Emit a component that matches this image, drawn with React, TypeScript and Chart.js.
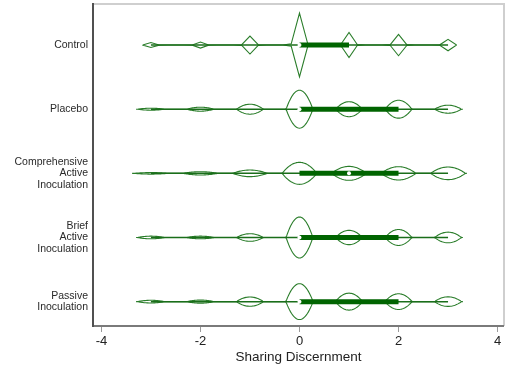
import React, { useEffect, useRef } from "react";
import { Chart, registerables } from "chart.js";

Chart.register(...registerables);

// ---- data ----
const categoryLabels: string[][] = [
  ["Control"],
  ["Placebo"],
  ["Comprehensive", "Active", "Inoculation"],
  ["Brief", "Active", "Inoculation"],
  ["Passive", "Inoculation"],
];
const scoreValues = [-3, -2, -1, 0, 1, 2, 3];
// share of respondents (%) at each discernment score
const controlShares = [3.3, 4.0, 11.9, 42.4, 16.6, 14.2, 7.6];
const placeboShares = [2.1, 4.2, 10.5, 40.0, 15.8, 18.9, 8.4];
const comprehensiveShares = [2.1, 4.5, 9.0, 30.1, 19.0, 18.1, 17.2];
const briefShares = [2.8, 2.8, 8.0, 43.2, 15.1, 16.8, 11.2];
const passiveShares = [2.9, 3.3, 9.9, 38.5, 18.2, 16.9, 10.3];
const groupShares = [controlShares, placeboShares, comprehensiveShares, briefShares, passiveShares];
// Epanechnikov kernel half-widths and evaluation grid steps of the violins
const bandwidths = [0.17, 0.27, 0.35, 0.27, 0.275];
const gridSteps = [1 / 6, 0.02, 0.02, 0.02, 0.02];
const whiskerLow = [-3, -3, -3, -3, -3];
const whiskerHigh = [3, 3, 3, 3, 3];
const quartile1 = [0, 0, 0, 0, 0];
const quartile3 = [1, 2, 2, 2, 2];
const medians = [0, 0, 1, 0, 0];
const xTickValues = [-4, -2, 0, 2, 4];

const DENSITY_SCALE = 0.266;
const FONT = "'Liberation Sans', Arial, sans-serif";
const OUTLINE = "#2a7d2a";
const DARK = "#006400";

function outline(idx: number) {
  const shares = groupShares[idx];
  const total = shares.reduce((a, b) => a + b, 0);
  const bw = bandwidths[idx];
  const step = gridSteps[idx];
  const lo = whiskerLow[idx] - bw - 0.03;
  const hi = whiskerHigh[idx] + bw + 0.03;
  const k0 = Math.ceil(lo / step - 1e-9);
  const k1 = Math.floor(hi / step + 1e-9);
  const upper: { x: number; y: number }[] = [];
  const lower: { x: number; y: number }[] = [];
  for (let k = k0; k <= k1; k++) {
    const x = k * step;
    let d = 0;
    scoreValues.forEach((v, i) => {
      const u = (x - v) / bw;
      if (Math.abs(u) < 1) d += (shares[i] / total) * 0.75 * (1 - u * u) / bw;
    });
    upper.push({ x, y: idx - DENSITY_SCALE * d });
    lower.push({ x, y: idx + DENSITY_SCALE * d });
  }
  return [...upper, ...lower.reverse(), upper[0]];
}

const framePlugin = {
  id: "frame",
  beforeDatasetsDraw(chart: any) {
    const { ctx, chartArea } = chart;
    const { left, right, top, bottom } = chartArea;
    ctx.save();
    ctx.lineWidth = 2;
    ctx.strokeStyle = "#cfcfcf";
    ctx.beginPath();
    ctx.moveTo(left, top);
    ctx.lineTo(right, top);
    ctx.lineTo(right, bottom);
    ctx.stroke();
    ctx.strokeStyle = "#7a7a7a";
    ctx.beginPath();
    ctx.moveTo(left, bottom);
    ctx.lineTo(right, bottom);
    ctx.stroke();
    ctx.strokeStyle = "#505050";
    ctx.beginPath();
    ctx.moveTo(left, top - 1);
    ctx.lineTo(left, bottom + 1);
    ctx.stroke();
    ctx.restore();
  },
};

export default function App() {
  const ref = useRef<HTMLCanvasElement>(null);
  useEffect(() => {
    if (!ref.current) return;
    const datasets: any[] = [];
    groupShares.forEach((_, i) => {
      datasets.push({
        data: outline(i),
        showLine: true,
        borderColor: OUTLINE,
        borderWidth: 1.1,
        pointRadius: 0,
        tension: 0,
        order: 3,
      });
      datasets.push({
        data: [
          { x: whiskerLow[i], y: i },
          { x: whiskerHigh[i], y: i },
        ],
        showLine: true,
        borderColor: "#1a6e1a",
        borderWidth: 1.5,
        pointRadius: 0,
        order: 2,
      });
      datasets.push({
        data: [
          { x: quartile1[i], y: i },
          { x: quartile3[i], y: i },
        ],
        showLine: true,
        borderColor: DARK,
        borderWidth: 5,
        borderCapStyle: "butt",
        pointRadius: 0,
        order: 1,
      });
    });
    datasets.push({
      data: medians.map((m, i) => ({ x: m, y: i })),
      showLine: false,
      pointRadius: 2,
      pointBackgroundColor: "#ffffff",
      pointBorderWidth: 0,
      pointBorderColor: "#ffffff",
      order: 0,
    });

    const chart = new Chart(ref.current, {
      type: "scatter",
      data: { datasets },
      options: {
        animation: false,
        responsive: false,
        events: [],
        layout: { padding: { top: 4, right: 1, left: 0, bottom: 0 } },
        plugins: { legend: { display: false }, tooltip: { enabled: false } },
        scales: {
          x: {
            type: "linear",
            min: -4.17,
            max: 4.13,
            afterBuildTicks: (scale: any) => {
              scale.ticks = xTickValues.map((v) => ({ value: v }));
            },
            afterFit: (scale: any) => {
              scale.height = 44;
              scale.paddingLeft = 0;
              scale.paddingRight = 0;
            },
            grid: {
              drawOnChartArea: false,
              drawTicks: true,
              tickLength: 6,
              tickColor: "#9a9a9a",
              tickWidth: 1,
            },
            border: { display: false },
            ticks: {
              color: "#222222",
              padding: 2,
              font: { family: FONT, size: 13 },
              callback: (v: any) => String(v),
            },
            title: {
              display: true,
              text: "Sharing Discernment",
              color: "#222222",
              font: { family: FONT, size: 13.5 },
              padding: { top: 0, bottom: 5 },
            },
          },
          y: {
            type: "linear",
            reverse: true,
            min: -0.64,
            max: 4.38,
            afterBuildTicks: (scale: any) => {
              scale.ticks = categoryLabels.map((_, i) => ({ value: i }));
            },
            afterFit: (scale: any) => {
              scale.width = 93;
              scale.paddingTop = 0;
              scale.paddingBottom = 0;
            },
            grid: { display: false, drawTicks: false },
            border: { display: false },
            ticks: {
              color: "#2a2a2a",
              padding: 5,
              font: { family: FONT, size: 10.5, lineHeight: 1.1 },
              callback: (v: any) => categoryLabels[Math.round(Number(v))] ?? "",
            },
          },
        },
      },
      plugins: [framePlugin],
    } as any);
    return () => chart.destroy();
  }, []);

  return (
    <div style={{ position: "absolute", left: 0, top: 0, width: 508, height: 370, background: "#fff" }}>
      <canvas ref={ref} width={508} height={370} style={{ display: "block" }} />
    </div>
  );
}
